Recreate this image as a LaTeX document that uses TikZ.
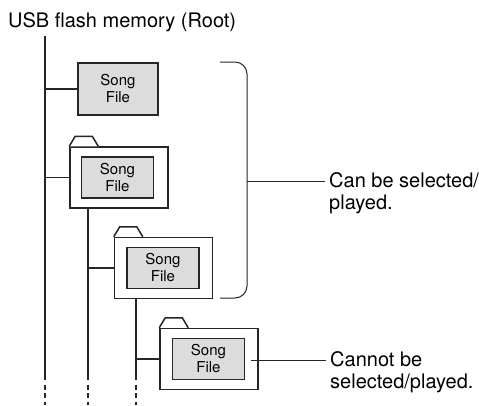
\documentclass[tikz,border=0pt]{standalone}
\usepackage{fontspec}
\setmainfont{TeX Gyre Heros}
\newcommand\mytitlefont{\fontsize{20}{22}\selectfont}
\newcommand\mylabelfont{\fontsize{20}{22}\selectfont}
\newcommand\myboxfont{\fontsize{15}{17}\selectfont}
\definecolor{linec}{HTML}{262626}
\definecolor{boxfill}{HTML}{DCDCDC}
\begin{document}
\begin{tikzpicture}[x=1pt,y=-1pt,
  treeline/.style={draw=linec, line width=1.3pt},
  dashline/.style={draw=linec, line width=1.3pt, dash pattern=on 5pt off 3.5pt},
  thinline/.style={draw=linec, line width=1pt},
  songbox/.style={draw=linec, line width=1.3pt, fill=boxfill, minimum width=72pt, minimum height=41pt, inner sep=0pt, align=center, font=\myboxfont},
  bigsong/.style={songbox, minimum width=80pt, minimum height=52pt},
  folderbox/.style={draw=linec, line width=1.5pt, fill=white, minimum width=98pt, minimum height=61pt, inner sep=0pt},
  foldertab/.style={draw=linec, line width=1.5pt, fill=white},
  labeltext/.style={anchor=north west, inner xsep=4pt, inner ysep=0pt, align=left, font=\mylabelfont}
]
\useasboundingbox (0,0) rectangle (479,405);
\fill[white] (0,0) rectangle (479,405);

% title
\node[anchor=base west, inner sep=0pt, font=\mytitlefont] (title) at (8,27) {USB flash memory (Root)};

% boxes and folders
\node[bigsong] (b1) at (118,89) {Song\\File};

\node[folderbox] (f1) at (119,177.5) {};
\draw[foldertab] (f1.north west) -- ++(6,-10) -- ++(17,0) -- ++(6,10);
\node[songbox] (s1) at (117.5,177.5) {Song\\File};

\node[folderbox] (f2) at (163.5,268) {};
\draw[foldertab] (f2.north west) -- ++(6,-10) -- ++(17,0) -- ++(6,10);
\node[songbox] (s2) at (163,268) {Song\\File};

\node[folderbox] (f3) at (209,359) {};
\draw[foldertab] (f3.north west) -- ++(6,-10) -- ++(17,0) -- ++(6,10);
\node[songbox] (s3) at (208.5,359) {Song\\File};

% tree lines
\coordinate (l1top) at (45,36);
\coordinate (l1end) at (45,380);
\coordinate (l1d) at (45,384.5);
\coordinate (l1bot) at (45,405);
\coordinate (l2end) at (88,380);
\coordinate (l2d) at (88,384.5);
\coordinate (l2bot) at (88,405);
\coordinate (l3end) at (136,380);
\coordinate (l3d) at (136,384.5);
\coordinate (l3bot) at (136,405);

\draw[treeline] (l1top) -- (l1end);
\draw[dashline] (l1d) -- (l1bot);
\draw[treeline] (f1.south -| l2end) -- (l2end);
\draw[dashline] (l2d) -- (l2bot);
\draw[treeline] (f2.south -| l3end) -- (l3end);
\draw[dashline] (l3d) -- (l3bot);

\draw[treeline] (b1.west -| l1top) -- (b1.west);
\draw[treeline] (f1.west -| l1top) -- (f1.west);
\draw[treeline] (f2.west -| l2end) -- (f2.west);
\draw[treeline] (f3.west -| l3end) -- (f3.west);

% bracket and labels
\draw[thinline, rounded corners=12pt] (220,62) -- (247,62) -- (247,298) -- (220,298);
\coordinate (brk) at (247,181);
\node[labeltext] (lab1) at (325,172) {Can be selected/\\played.};
\draw[thinline] (brk) -- (brk -| lab1.west);

\coordinate (tick2) at (251,360);
\node[labeltext] (lab2) at (326,351) {Cannot be\\selected/played.};
\draw[thinline] (tick2) -- (tick2 -| lab2.west);
\end{tikzpicture}
\end{document}
